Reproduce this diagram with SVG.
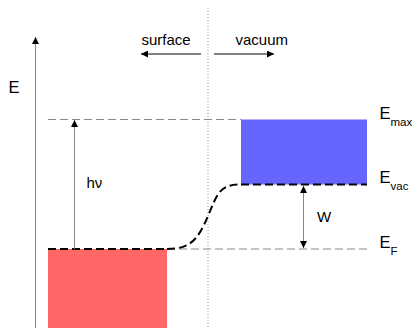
<svg xmlns="http://www.w3.org/2000/svg" width="414" height="328" viewBox="0 0 414 328">
<style>
text { font-family: "Liberation Sans", Arial, sans-serif; fill: #000; }
.lbl { font-size: 15px; }
.big { font-size: 16.5px; }
.sub { font-size: 11.5px; }
.guide { stroke: #888; stroke-width: 1; stroke-dasharray: 8 4; fill: none; }
.bold { stroke: #000; stroke-width: 2; stroke-dasharray: 8 4; fill: none; }
.ax { stroke: #888; stroke-width: 1; fill: none; }
.blk { stroke: #000; stroke-width: 1; fill: none; }
</style>
<defs>
<marker id="ah" viewBox="0 0 10 10" refX="10" refY="5" markerWidth="7" markerHeight="7" markerUnits="userSpaceOnUse" orient="auto-start-reverse">
<path d="M0,0 L10,5 L0,10 z" fill="#000"/>
</marker>
</defs>
<g id="bands">
<rect id="metal" x="48" y="249" width="119" height="79" fill="#FF6666"/>
<rect id="vacband" x="241" y="119.5" width="126" height="65" fill="#6666FF"/>
</g>
<g id="connectors">
<line x1="208" y1="8" x2="208" y2="328" stroke="#999" stroke-width="1" stroke-dasharray="1 2"/>
<line class="ax" x1="35.5" y1="328" x2="35.5" y2="37" marker-end="url(#ah)"/>
<line class="guide" x1="48" y1="119.5" x2="241" y2="119.5"/>
<line class="guide" x1="167" y1="249" x2="367" y2="249"/>
<line class="bold" x1="48" y1="249" x2="167" y2="249"/>
<line class="bold" x1="241" y1="184.5" x2="367" y2="184.5"/>
<path class="bold" stroke-dasharray="9 5" d="M167,249 C190,249 198,240 208,216 S220,184.5 241,184.5"/>
<line class="ax" x1="74.5" y1="249" x2="74.5" y2="120" marker-end="url(#ah)"/>
<line class="ax" x1="303.5" y1="186" x2="303.5" y2="248" marker-start="url(#ah)" marker-end="url(#ah)"/>
<line class="blk" x1="201" y1="54" x2="141" y2="54" marker-end="url(#ah)"/>
<line class="blk" x1="214" y1="54" x2="274" y2="54" marker-end="url(#ah)"/>
</g>
<g id="labels">
<text class="big" x="8.5" y="93">E</text>
<text class="lbl" x="141.5" y="44.5">surface</text>
<text class="lbl" x="235.5" y="44.5">vacuum</text>
<text class="lbl" x="86.5" y="188">hν</text>
<text class="lbl" x="317" y="221.5">W</text>
<text class="big" x="379.5" y="118.5">E<tspan class="sub" dy="7">max</tspan></text>
<text class="big" x="379.5" y="183">E<tspan class="sub" dy="7">vac</tspan></text>
<text class="big" x="379.5" y="247.5">E<tspan class="sub" dy="7.5">F</tspan></text>
</g>
</svg>
